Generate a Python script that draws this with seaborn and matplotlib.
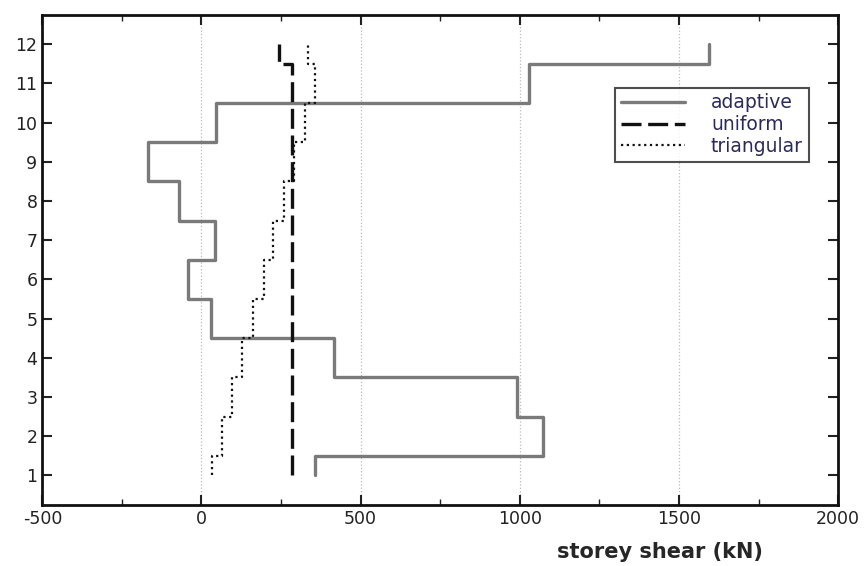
import matplotlib
matplotlib.use("Agg")
import matplotlib.pyplot as plt
import numpy as np
import pandas as pd
import seaborn as sns
from matplotlib.ticker import MultipleLocator

storeys = list(range(1, 13))
adaptive = [358, 1072, 991, 416, 31, -43, 44, -72, -167, 47, 1028, 1594]
uniform = [283, 283, 283, 283, 283, 283, 283, 283, 283, 283, 283, 243]
triangular = [33, 63, 95, 128, 162, 197, 226, 259, 292, 324, 358, 334]


def step_profile(values, name):
    # each storey value holds from half a storey below to half above
    rows = []
    for s, v in zip(storeys, values):
        lo = max(storeys[0], s - 0.5)
        hi = min(storeys[-1], s + 0.5)
        rows.append((v, lo, name))
        rows.append((v, hi, name))
    return pd.DataFrame(rows, columns=["shear", "storey", "case"])


sns.set_style("ticks")
plt.rcParams["font.family"] = ["DejaVu Sans"]
plt.rcParams["axes.unicode_minus"] = False

fig, ax = plt.subplots(figsize=(8.64, 5.66), dpi=100)
fig.subplots_adjust(left=0.049, right=0.970, top=0.974, bottom=0.108)

styles = {
    "adaptive": dict(color="#7a7a7a", linestyle="-", linewidth=2.4),
    "uniform": dict(color="#111111", linestyle=(0, (6, 2)), linewidth=2.4),
    "triangular": dict(color="#111111", linestyle=(0, (1, 1.6)), linewidth=1.6),
}
for name, vals in [("adaptive", adaptive), ("uniform", uniform), ("triangular", triangular)]:
    df = step_profile(vals, name)
    sns.lineplot(data=df, x="shear", y="storey", sort=False, estimator=None,
                 ax=ax, label=name, **styles[name])

ax.set_xlim(-500, 2000)
ax.set_ylim(0.25, 12.75)
ax.set_xticks([-500, 0, 500, 1000, 1500, 2000])
ax.xaxis.set_minor_locator(MultipleLocator(250))
ax.set_yticks(storeys)
ax.tick_params(axis="both", which="both", direction="in", top=True, right=True,
               labelsize=12.5, colors="#222222")
ax.tick_params(axis="both", which="major", length=7, width=1.5)
ax.tick_params(axis="x", which="minor", length=4, width=1)
ax.grid(axis="x", which="major", linestyle=":", color="#bbbbbb", linewidth=0.9)
for sp in ax.spines.values():
    sp.set_linewidth(2)
    sp.set_color("#111111")

ax.set_ylabel("")
ax.set_xlabel("storey shear (kN)", fontsize=15, fontweight="bold", labelpad=2)
ax.xaxis.set_label_coords(0.776, -0.075)

leg = ax.legend(loc="upper left", bbox_to_anchor=(0.72, 0.851), borderaxespad=0,
                frameon=True, fancybox=False, edgecolor="#222222", fontsize=13.5,
                handlelength=3.4, handletextpad=1.4, borderpad=0.3,
                labelspacing=0.15)
leg.get_frame().set_linewidth(1.5)
for t in leg.get_texts():
    t.set_color("#2a2a5a")

fig.savefig("out.png", dpi=100)
